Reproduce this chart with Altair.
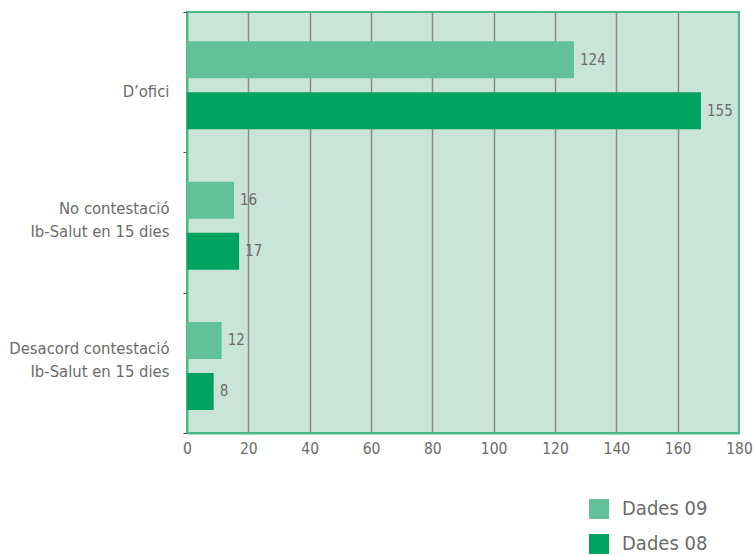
import altair as alt
import pandas as pd

categories = ["D’ofici", "No contestació\nIb-Salut en 15 dies", "Desacord contestació\nIb-Salut en 15 dies"]
series = ["Dades 09", "Dades 08"]
bar_09 = [126.2, 15.3, 11.3]
bar_08 = [167.6, 17.0, 8.7]
label_09 = ["124", "16", "12"]
label_08 = ["155", "17", "8"]
colors = ["#62C09A", "#00A261"]

rows = []
for i, c in enumerate(categories):
    rows.append({"cat": c, "serie": series[0], "value": bar_09[i], "label": label_09[i]})
    rows.append({"cat": c, "serie": series[1], "value": bar_08[i], "label": label_08[i]})
df = pd.DataFrame(rows)

FONT = "DejaVu Sans Condensed, sans-serif"
GREY = "#6b6b6b"

y_enc = alt.Y(
    "cat:N",
    sort=categories,
    scale=alt.Scale(paddingInner=0, paddingOuter=0),
    axis=alt.Axis(
        title=None,
        labelExpr="indexof(datum.label, '\\n') >= 0 ? split(datum.label, '\\n') : ['', datum.label]",
        labelFont=FONT,
        labelFontSize=16.5,
        labelColor=GREY,
        labelLineHeight=23,
        labelPadding=14,
        labelOffset=-14,
        tickBand="extent",
        tickSize=4,
        tickColor="#555555",
        domainColor="#4cb98a",
        domainWidth=2,
        grid=False,
    ),
)
yoff = alt.YOffset(
    "serie:N",
    sort=series,
    scale=alt.Scale(paddingInner=0.2745, paddingOuter=0.513, align=0.56),
)

x_enc = alt.X(
    "value:Q",
    stack=None,
    scale=alt.Scale(domain=[0, 180], nice=False),
    axis=alt.Axis(
        title=None,
        values=[0, 20, 40, 60, 80, 100, 120, 140, 160, 180],
        labelFont=FONT,
        labelFontSize=15.5,
        labelColor=GREY,
        labelPadding=8,
        labelFlush=False,
        ticks=False,
        domainColor="#4cb98a",
        domainWidth=2,
        grid=True,
        gridColor={
            "condition": {"test": "datum.value == 0 || datum.value == 180", "value": "transparent"},
            "value": "#8a8a8a",
        },
        gridWidth=1.5,
    ),
)

bars = alt.Chart(df).mark_bar().encode(
    x=x_enc,
    y=y_enc,
    yOffset=yoff,
    color=alt.Color(
        "serie:N",
        sort=series,
        scale=alt.Scale(domain=series, range=colors),
        legend=alt.Legend(
            title=None,
            orient="none",
            legendX=402,
            legendY=487,
            symbolType="square",
            symbolSize=400,
            symbolStrokeWidth=0,
            labelFont=FONT,
            labelFontSize=20,
            labelColor=GREY,
            labelOffset=13,
            rowPadding=15,
            padding=0,
        ),
    ),
)

texts = alt.Chart(df).mark_text(
    align="left", baseline="middle", dx=6, font=FONT, fontSize=15, color=GREY
).encode(
    x=alt.X("value:Q", stack=None),
    y=alt.Y("cat:N", sort=categories),
    yOffset=alt.YOffset("serie:N", sort=series),
    text="label:N",
)

chart = (
    alt.layer(bars, texts)
    .properties(
        width=552,
        height=421,
        autosize=alt.AutoSizeParams(type="none"),
        padding={"left": 187, "top": 12, "right": 14, "bottom": 123},
        background="white",
    )
    .configure_view(fill="#CBE4D9", stroke="#4cb98a", strokeWidth=2)
)

chart.save("out.html", embed_options={"renderer": "svg", "actions": False})
